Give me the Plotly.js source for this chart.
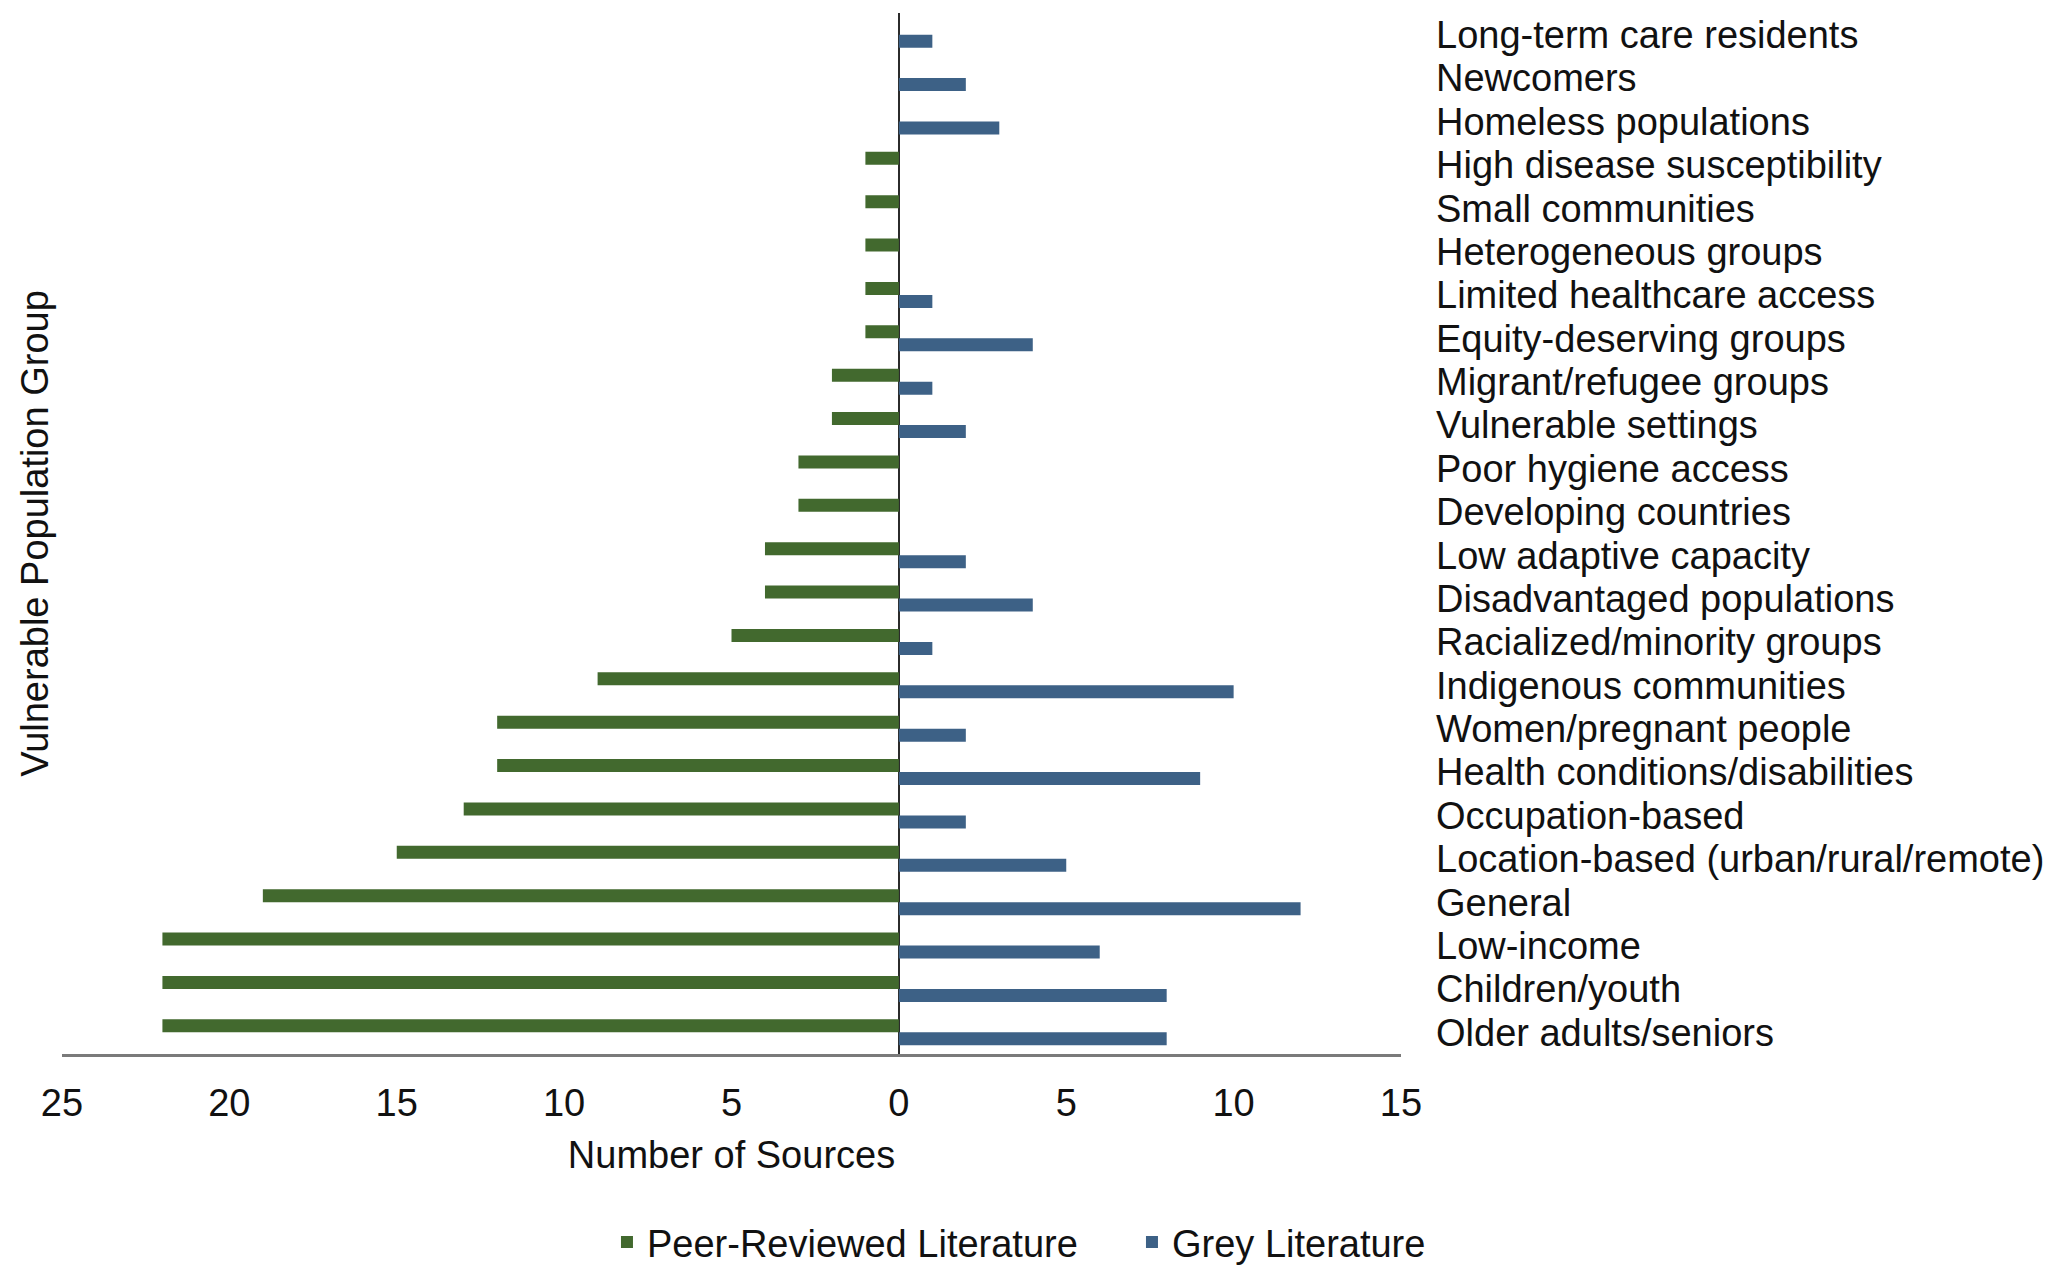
<!DOCTYPE html>
<html>
<head>
<meta charset="utf-8">
<script src="https://cdn.plot.ly/plotly-3.0.1.min.js"></script>
<style>
  html, body { margin: 0; padding: 0; background: #ffffff; }
  #chart { width: 2069px; height: 1269px; }
</style>
</head>
<body>
<div id="chart"></div>
<script>
// Categories, top to bottom as shown
const categories = [
  "Long-term care residents",
  "Newcomers",
  "Homeless populations",
  "High disease susceptibility",
  "Small communities",
  "Heterogeneous groups",
  "Limited healthcare access",
  "Equity-deserving groups",
  "Migrant/refugee groups",
  "Vulnerable settings",
  "Poor hygiene access",
  "Developing countries",
  "Low adaptive capacity",
  "Disadvantaged populations",
  "Racialized/minority groups",
  "Indigenous communities",
  "Women/pregnant people",
  "Health conditions/disabilities",
  "Occupation-based",
  "Location-based (urban/rural/remote)",
  "General",
  "Low-income",
  "Children/youth",
  "Older adults/seniors"
];

// Number of sources (peer-reviewed plotted to the left)
const peerReviewed = [0, 0, 0, 1, 1, 1, 1, 1, 2, 2, 3, 3, 4, 4, 5, 9, 12, 12, 13, 15, 19, 22, 22, 22];
const greyLiterature = [1, 2, 3, 0, 0, 0, 1, 4, 1, 2, 0, 0, 2, 4, 1, 10, 2, 9, 2, 5, 12, 6, 8, 8];

// Axis ticks
const xTickVals = [-25, -20, -15, -10, -5, 0, 5, 10, 15];
const xTickText = ["25", "20", "15", "10", "5", "0", "5", "10", "15"];

const FONT = "Liberation Sans, Arial, Helvetica, sans-serif";
const TXT = "#111111";
const FS = 38;

const traces = [
  {
    type: "bar",
    orientation: "h",
    name: "Peer-Reviewed Literature",
    y: categories,
    x: peerReviewed.map(v => -v),
    customdata: peerReviewed,
    xaxis: "x",
    yaxis: "y",
    width: 0.3,
    offset: -0.3,
    hovertemplate: "%{y}: %{customdata}<extra>Peer-Reviewed</extra>",
    marker: { color: "#42692e" }
  },
  {
    type: "bar",
    orientation: "h",
    name: "Grey Literature",
    y: categories,
    x: greyLiterature,
    xaxis: "x",
    yaxis: "y2",
    width: 0.3,
    offset: 0,
    hovertemplate: "%{y}: %{x}<extra>Grey</extra>",
    marker: { color: "#3d6186" }
  }
];

const layout = {
  width: 2069,
  height: 1269,
  paper_bgcolor: "#ffffff",
  plot_bgcolor: "#ffffff",
  font: { family: FONT, size: FS, color: TXT },
  margin: { l: 62, r: 668, t: 13, b: 215, pad: 0 },
  barmode: "overlay",
  showlegend: true,
  legend: {
    orientation: "h",
    x: 0.407,
    xanchor: "left",
    yref: "container",
    y: 0.021,
    yanchor: "middle",
    font: { family: FONT, size: FS, color: TXT },
    entrywidth: 480,
    entrywidthmode: "pixels",
    bgcolor: "rgba(0,0,0,0)"
  },
  xaxis: {
    range: [-25, 15],
    tickmode: "array",
    tickvals: xTickVals,
    ticktext: xTickText,
    ticks: "",
    ticklabelstandoff: 14,
    showgrid: false,
    zeroline: true,
    zerolinecolor: "#2b2b2b",
    zerolinewidth: 1.5,
    showline: true,
    linecolor: "#7a7a7a",
    linewidth: 2.5,
    tickfont: { family: FONT, size: FS, color: TXT },
    title: { text: "Number of Sources", font: { family: FONT, size: FS, color: TXT }, standoff: 19 },
    automargin: false,
    fixedrange: true
  },
  yaxis: {
    type: "category",
    categoryorder: "array",
    categoryarray: categories,
    range: [categories.length - 0.5, -0.5],
    side: "left",
    showticklabels: false,
    ticks: "",
    showgrid: false,
    zeroline: false,
    showline: false,
    title: { text: "Vulnerable Population Group", font: { family: FONT, size: FS, color: TXT }, standoff: 0 },
    automargin: false,
    fixedrange: true
  },
  yaxis2: {
    type: "category",
    overlaying: "y",
    anchor: "x",
    categoryorder: "array",
    categoryarray: categories,
    range: [categories.length - 0.5, -0.5],
    side: "right",
    tickmode: "array",
    tickvals: categories,
    ticktext: categories,
    ticks: "",
    ticklabelstandoff: 34,
    showgrid: false,
    zeroline: false,
    showline: false,
    tickfont: { family: FONT, size: FS, color: TXT },
    automargin: false,
    fixedrange: true
  }
};

Plotly.newPlot("chart", traces, layout, { displayModeBar: false, staticPlot: true });
</script>
</body>
</html>
